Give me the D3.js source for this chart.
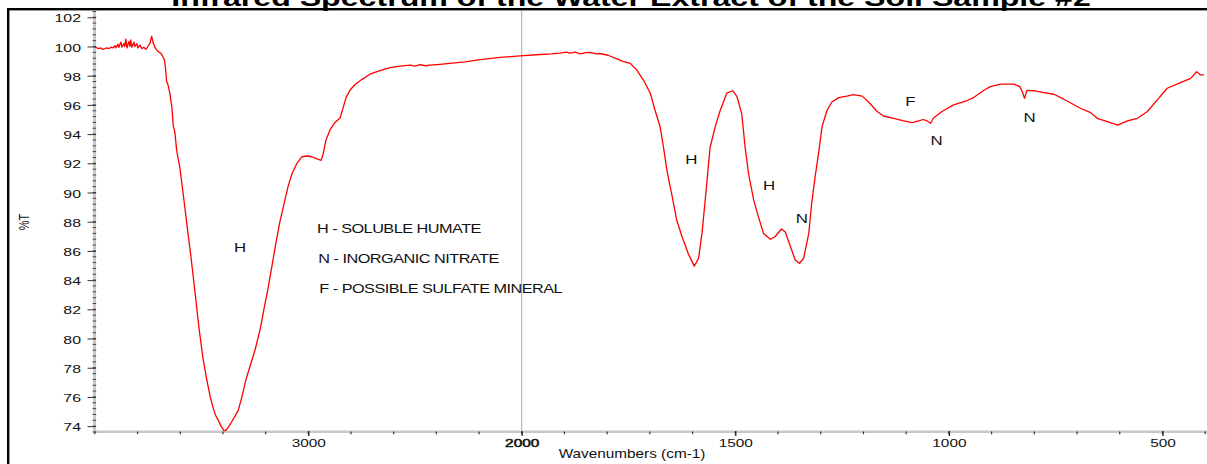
<!DOCTYPE html>
<html>
<head>
<meta charset="utf-8">
<script src="https://cdn.jsdelivr.net/npm/d3@7"></script>
<style>
  body { margin: 0; background: #fff; }
  svg { display: block; font-family: Arial, "Liberation Sans", sans-serif; }
</style>
</head>
<body>
<svg id="chart" width="1207" height="464"></svg>
<script>
// Spectrum trace: wavenumber (cm-1) and percent transmittance
const wavenumbers = [
  4000, 3991, 3981, 3972, 3963, 3953, 3944, 3935, 3925, 3916, 3906, 3902, 3892, 3888, 3878, 3874,
  3864, 3860, 3855, 3850, 3841, 3836, 3832, 3827, 3817, 3813, 3803, 3799, 3789, 3780, 3771, 3761,
  3752, 3742, 3734, 3728, 3719, 3710, 3700, 3691, 3681, 3674, 3669, 3664, 3658, 3649, 3639, 3633,
  3625, 3617, 3602, 3587, 3568, 3550, 3531, 3512, 3493, 3476, 3461, 3445, 3433, 3422, 3409, 3395,
  3386, 3376, 3359, 3343, 3328, 3311, 3292, 3273, 3250, 3226, 3208, 3189, 3170, 3151, 3133, 3114,
  3095, 3076, 3053, 3030, 3006, 2983, 2959, 2940, 2931, 2917, 2898, 2875, 2851, 2837, 2823, 2805,
  2781, 2748, 2711, 2664, 2617, 2570, 2523, 2500, 2477, 2450, 2430, 2383, 2336, 2266, 2195, 2102,
  2008, 1957, 1930, 1910, 1895, 1887, 1875, 1863, 1850, 1840, 1825, 1817, 1798, 1777, 1765, 1746,
  1731, 1715, 1699, 1688, 1676, 1668, 1660, 1649, 1637, 1625, 1610, 1596, 1586, 1578, 1571, 1559,
  1547, 1535, 1520, 1506, 1496, 1485, 1477, 1469, 1457, 1446, 1434, 1418, 1407, 1392, 1383, 1371,
  1360, 1350, 1340, 1328, 1321, 1313, 1305, 1297, 1285, 1274, 1258, 1239, 1223, 1203, 1188, 1168,
  1153, 1129, 1106, 1086, 1071, 1060, 1051, 1043, 1036, 1016, 989, 957, 942, 918, 903, 879,
  848, 834, 828, 823, 817, 801, 778, 754, 731, 692, 668, 653, 629, 605, 582, 559,
  536, 512, 489, 458, 434, 420, 411, 403
];
const transmittance = [
  99.95, 99.9, 99.85, 99.9, 99.8, 99.85, 99.9, 99.85, 99.95, 99.9, 100.05, 99.9, 100.15, 99.95, 100.3, 99.95,
  100.2, 100.0, 100.5, 99.9, 100.35, 100.0, 100.45, 99.95, 100.3, 100.0, 100.2, 99.9, 100.1, 99.85, 99.95, 99.8,
  100.0, 100.2, 100.7, 100.3, 99.95, 99.75, 99.6, 99.55, 99.3, 99.05, 98.5, 97.6, 97.4, 96.8, 95.8, 94.6,
  94.1, 92.9, 91.7, 90.0, 87.7, 85.6, 83.2, 80.7, 78.6, 77.2, 76.1, 75.2, 74.7, 74.4, 74.0, 73.7,
  73.72, 73.9, 74.3, 74.7, 75.1, 76.0, 77.2, 78.1, 79.2, 80.6, 82.0, 83.4, 85.0, 86.6, 88.0, 89.2,
  90.4, 91.3, 92.0, 92.45, 92.5, 92.45, 92.3, 92.2, 92.6, 93.6, 94.3, 94.8, 95.1, 95.8, 96.5, 97.0,
  97.4, 97.75, 98.1, 98.35, 98.55, 98.65, 98.72, 98.65, 98.75, 98.68, 98.72, 98.78, 98.85, 98.95, 99.1, 99.25,
  99.35, 99.45, 99.5, 99.55, 99.62, 99.55, 99.62, 99.5, 99.58, 99.6, 99.5, 99.52, 99.4, 99.15, 99.0, 98.85,
  98.4, 97.7, 96.8, 95.65, 94.5, 93.1, 91.5, 89.9, 88.1, 87.0, 85.8, 84.96, 85.5, 87.2, 89.3, 93.1,
  94.5, 95.65, 96.8, 96.97, 96.56, 95.4, 93.1, 91.3, 89.5, 88.35, 87.2, 86.8, 86.97, 87.5, 87.3, 86.3,
  85.4, 85.15, 85.5, 87.2, 89.3, 91.1, 92.7, 94.5, 95.65, 96.2, 96.5, 96.6, 96.7, 96.6, 96.2, 95.55,
  95.24, 95.08, 94.9, 94.78, 94.9, 95.0, 94.9, 94.74, 95.1, 95.55, 96.0, 96.3, 96.5, 97.0, 97.25, 97.42,
  97.42, 97.25, 96.9, 96.45, 97.0, 96.97, 96.84, 96.73, 96.39, 95.77, 95.47, 95.08, 94.85, 94.62, 94.9, 95.08,
  95.53, 96.34, 97.14, 97.52, 97.82, 98.27, 98.05, 98.05
];

// Axis ticks
const yTickValues = [74, 76, 78, 80, 82, 84, 86, 88, 90, 92, 94, 96, 98, 100, 102];
const xTickLabels = [3000, 2000, 1500, 1000, 500];
const xMinorHigh = [4000, 3800, 3600, 3400, 3200, 3000, 2800, 2600, 2400, 2200, 2000];
const xMinorLow = [1900, 1800, 1700, 1600, 1500, 1400, 1300, 1200, 1100, 1000, 900, 800, 700, 600, 500, 400];

// Band assignments drawn next to the peaks
const peakLetters = ["H", "H", "H", "N", "F", "N", "N"];
const peakWavenumbers = [3320, 1603, 1421, 1344, 1090, 1029, 811];
const peakLevels = [86.23, 92.29, 90.47, 88.25, 96.22, 93.6, 95.12];

const legendLines = ["H - SOLUBLE HUMATE", "N - INORGANIC NITRATE", "F - POSSIBLE SULFATE MINERAL"];

const chartTitle = "Infrared Spectrum of the Water Extract of the Soil Sample #2";
const xTitle = "Wavenumbers (cm-1)";
const yTitle = "%T";

const svg = d3.select("#chart");

// Wavenumber axis is expanded 2x below 2000 cm-1
const x = d3.scaleLinear().domain([4000, 2000, 400]).range([94.9, 521.7, 1205.2]);
const y = d3.scaleLinear().domain([73.62, 102.43]).range([431.7, 11]);

// Outer frame
svg.append("rect")
  .attr("x", 8.2).attr("y", 9.2).attr("width", 1270).attr("height", 500)
  .attr("fill", "none").attr("stroke", "#000").attr("stroke-width", 2.4);

// Title (horizontally stretched bold face), sitting above the frame
const title = svg.append("text")
  .attr("text-anchor", "middle")
  .attr("font-weight", "bold").attr("font-size", 24)
  .text(chartTitle);
const titleW = title.node().getComputedTextLength();
title.attr("transform", `translate(631,6) scale(${920 / titleW},1)`);

// Split marker at 2000 cm-1
svg.append("line")
  .attr("x1", x(2000)).attr("x2", x(2000))
  .attr("y1", y.range()[1]).attr("y2", y.range()[0])
  .attr("stroke", "#a8a8a8").attr("stroke-width", 1);

// Axis bars
svg.append("line")
  .attr("x1", 94.5).attr("x2", 94.5).attr("y1", y.range()[1]).attr("y2", y.range()[0] + 1)
  .attr("stroke", "#c8c8c8").attr("stroke-width", 3);
svg.append("line")
  .attr("x1", 94).attr("x2", 1207).attr("y1", 431.7).attr("y2", 431.7)
  .attr("stroke", "#c8c8c8").attr("stroke-width", 2.5);

// Y minor ticks every 0.4
const yMinor = d3.range(0, 73).map(i => 73.6 + i * 0.4).filter(v => v <= 102.43);
svg.append("g").selectAll("line").data(yMinor).join("line")
  .attr("x1", 92.6).attr("x2", 96.2)
  .attr("y1", d => y(d)).attr("y2", d => y(d))
  .attr("stroke", "#444").attr("stroke-width", 1);

// Y major ticks and labels
const yAxis = svg.append("g")
  .attr("transform", "translate(96,0)")
  .call(d3.axisLeft(y).tickValues(yTickValues).tickSize(8.5).tickFormat(d3.format("d")));
yAxis.select(".domain").remove();
yAxis.selectAll(".tick line").attr("stroke", "#333").attr("stroke-width", 1);
yAxis.selectAll(".tick text")
  .attr("x", null).attr("dy", null)
  .attr("dominant-baseline", "central")
  .attr("font-family", "Arial, 'Liberation Sans', sans-serif")
  .attr("font-size", 11.5).attr("fill", "#111")
  .attr("transform", "translate(-15,0.5) scale(1.38,1)");

// X minor ticks
svg.append("g").selectAll("line").data(xMinorHigh.concat(xMinorLow)).join("line")
  .attr("x1", d => x(d)).attr("x2", d => x(d))
  .attr("y1", 431.5).attr("y2", 434.2)
  .attr("stroke", "#333").attr("stroke-width", 1.2);

// X major ticks and labels
const xAxis = svg.append("g")
  .attr("transform", "translate(0,431)")
  .call(d3.axisBottom(x).tickValues(xTickLabels).tickSize(5).tickFormat(d3.format("d")));
xAxis.select(".domain").remove();
xAxis.selectAll(".tick line").attr("stroke", "#222").attr("stroke-width", 1.3);
xAxis.selectAll(".tick text")
  .attr("y", null).attr("dy", null)
  .attr("font-family", "Arial, 'Liberation Sans', sans-serif")
  .attr("font-size", 11.5).attr("fill", "#111")
  .attr("transform", "translate(0,15.7) scale(1.34,1)")
  .attr("stroke", d => d === 2000 ? "#111" : null)
  .attr("stroke-width", d => d === 2000 ? 0.5 : null);

// Axis titles
svg.append("text")
  .attr("text-anchor", "middle")
  .attr("font-size", 13).attr("fill", "#111")
  .attr("transform", "translate(632,457.5) scale(1.18,1)")
  .text(xTitle);
svg.append("text")
  .attr("text-anchor", "middle")
  .attr("font-size", 11).attr("fill", "#111")
  .attr("transform", "translate(29,222) scale(1.3,1) rotate(-90)")
  .text(yTitle);

// Spectrum trace
const points = wavenumbers.map((w, i) => ({ w, t: transmittance[i] }));
svg.append("path")
  .datum(points)
  .attr("fill", "none")
  .attr("stroke", "#ff0000")
  .attr("stroke-width", 1.3)
  .attr("stroke-linejoin", "round")
  .attr("d", d3.line().x(d => x(d.w)).y(d => y(d.t)));

// Peak assignment letters
svg.append("g").selectAll("text").data(peakLetters).join("text")
  .attr("text-anchor", "middle")
  .attr("dominant-baseline", "central")
  .attr("font-size", 13).attr("fill", "#111")
  .attr("transform", (d, i) => `translate(${x(peakWavenumbers[i])},${y(peakLevels[i])}) scale(1.3,1)`)
  .text(d => d);

// Legend of assignments
svg.append("g").selectAll("text").data(legendLines).join("text")
  .attr("font-size", 13).attr("fill", "#111")
  .attr("letter-spacing", -0.4)
  .attr("transform", (d, i) => `translate(${[317, 318.3, 319.3][i]},${[233.3, 262.5, 293.3][i]}) scale(1.25,1)`)
  .text(d => d);
</script>
</body>
</html>
